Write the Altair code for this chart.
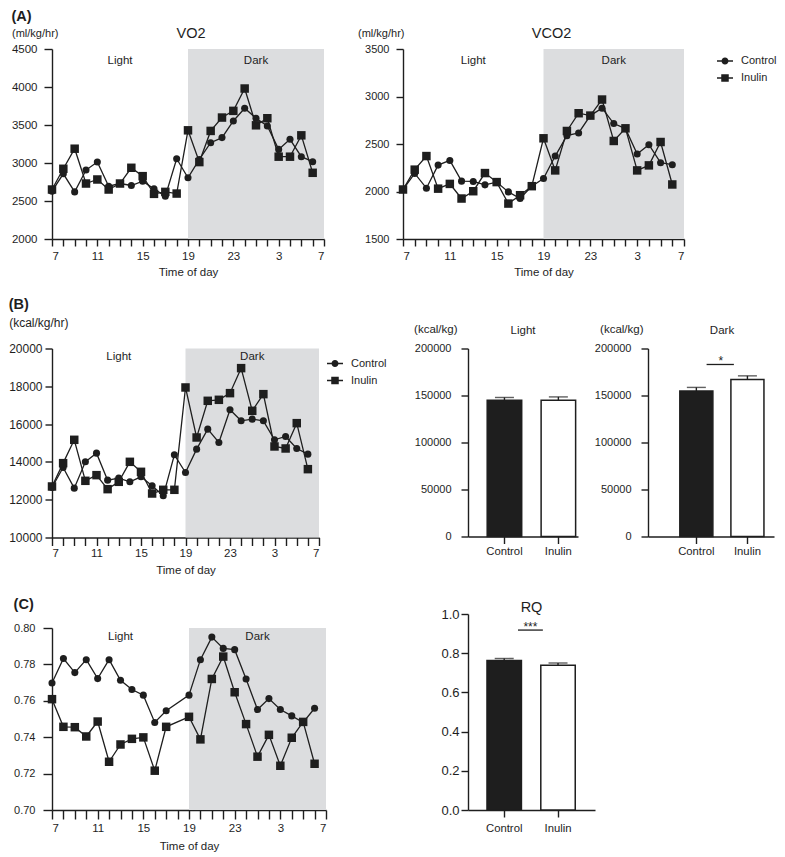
import altair as alt
import pandas as pd

FONT = "Liberation Sans"
INK = "#1e1e1e"
SHADE = "#dcdddf"

SERIES = ["Control", "Inulin"]

# ---- hourly time courses (hour of day) ----
HOURS_24 = [7, 8, 9, 10, 11, 12, 13, 14, 15, 16, 17, 18, 19, 20, 21, 22, 23, 0, 1, 2, 3, 4, 5, 6]

VO2_CONTROL = [2629, 2858, 2620, 2907, 3012, 2695, 2730, 2704, 2761, 2660, 2563, 3056,
               2805, 3047, 3267, 3334, 3553, 3721, 3589, 3488, 3179, 3312, 3083, 3017]
VO2_INULIN = [2651, 2924, 3188, 2730, 2783, 2651, 2730, 2937, 2827, 2594, 2620, 2598,
              3430, 3012, 3422, 3598, 3686, 3980, 3496, 3589, 3083, 3083, 3364, 2871]

VCO2_CONTROL = [2021, 2190, 2035, 2278, 2327, 2109, 2106, 2070, 2099, 1996, 1926, 2056,
                2137, 2373, 2588, 2616, 2799, 2877, 2715, 2662, 2394, 2493, 2303, 2282]
VCO2_INULIN = [2021, 2230, 2373, 2030, 2080, 1926, 2003, 2194, 2099, 1873, 1961, 2056,
               2560, 2222, 2637, 2824, 2799, 2968, 2532, 2665, 2222, 2275, 2521, 2074]

EE_CONTROL = [12646, 13704, 12611, 14004, 14463, 13034, 13140, 12946, 13210, 12734, 12205, 14375,
              13440, 14675, 15733, 15027, 16756, 16174, 16262, 16174, 15169, 15345, 14710, 14410]
EE_INULIN = [12699, 13934, 15169, 12999, 13299, 12558, 12946, 14004, 13475, 12328, 12523, 12523,
             17938, 15292, 17232, 17285, 17638, 18961, 16703, 17585, 14816, 14710, 16050, 13616]

RQ_HOURS = [7, 8, 9, 10, 11, 12, 13, 14, 15, 16, 17, 19, 20, 21, 22, 23, 0, 1, 2, 3, 4, 5, 6]
RQ_CONTROL = [0.7698, 0.7832, 0.7755, 0.7826, 0.7722, 0.7826, 0.7713, 0.7662, 0.7631, 0.7481, 0.7545,
              0.7631, 0.7826, 0.7950, 0.7888, 0.7881, 0.7720, 0.7552, 0.7612, 0.7552, 0.7517, 0.7481, 0.7559]
RQ_INULIN = [0.7609, 0.7457, 0.7455, 0.7404, 0.7486, 0.7265, 0.7360, 0.7391, 0.7399, 0.7216, 0.7457,
             0.7512, 0.7388, 0.7720, 0.7843, 0.7647, 0.7472, 0.7293, 0.7413, 0.7243, 0.7397, 0.7484, 0.7254]

# ---- summary bars (mean, SEM) ----
EE_LIGHT_MEAN = [145000, 145000]
EE_LIGHT_SEM = [2900, 3500]
EE_DARK_MEAN = [154700, 167000]
EE_DARK_SEM = [3900, 3900]
EE_DARK_SIG = ["*", 183000]
RQ_MEAN = [0.763, 0.738]
RQ_SEM = [0.010, 0.012]
RQ_SIG = ["***", 0.918]

START_HOUR = 7
DARK_START = 19
DAY = 24
PERIODS = ["Light", "Dark"]

LABEL_EXPR = "datum.value % 4 == 0 ? '' + ((datum.value + 7) % 24) : ''"
# legend glyphs: marker with a short line through it (line drawn as two thin filled bars)
_BARS = "M-1,-0.09L-0.4,-0.09L-0.4,0.09L-1,0.09Z M0.4,-0.09L1,-0.09L1,0.09L0.4,0.09Z "
CIRCLE_LINE = _BARS + "M-0.44,0A0.44,0.44,0,1,1,0.44,0A0.44,0.44,0,1,1,-0.44,0Z"
SQUARE_LINE = _BARS + "M-0.47,-0.47L0.47,-0.47L0.47,0.47L-0.47,0.47Z"


def hour_index(h):
    return (h - START_HOUR) % DAY


def y_axis(yticks, yfmt, unit, unit_x, unit_y, unit_size, lab_size, lab_pad, tick):
    kw = dict(values=yticks, format=yfmt, labelPadding=lab_pad, labelFontSize=lab_size, tickSize=tick)
    if unit:
        kw.update(title=unit, titleAngle=0, titleAlign="right", titleBaseline="middle",
                  titleX=unit_x, titleY=unit_y, titleFontSize=unit_size)
    else:
        kw["title"] = None
    return alt.Axis(**kw)


def line_panel(hours, ctrl, inul, ydom, yticks, yfmt, width, height, unit=None, unit_x=0,
               unit_y=-16, unit_size=11, title=None, title_off=-14.5, title_dx=0, legend_xy=None,
               xrange=None, yrange=None, period_y=12, lab_size=11.5, lab_pad=8, ytick=9,
               xtick=7, xlab_pad=4, xtitle_pad=4.5):
    rows = []
    for s, vals in zip(SERIES, (ctrl, inul)):
        for h, v in zip(hours, vals):
            rows.append({"series": s, "x": hour_index(h), "value": v})
    df = pd.DataFrame(rows)

    xs_kw = dict(domain=[0, DAY], nice=False, zero=False)
    if xrange is not None:
        xs_kw["range"] = xrange
    xs = alt.Scale(**xs_kw)
    xaxis = alt.Axis(values=list(range(DAY + 1)), labelExpr=LABEL_EXPR, title="Time of day",
                     titleFontSize=11.5, titlePadding=xtitle_pad, labelPadding=xlab_pad,
                     labelFontSize=11.5, tickSize=xtick)
    ys_kw = dict(domain=ydom, nice=False, zero=False)
    if yrange is not None:
        ys_kw["range"] = yrange
    ys = alt.Scale(**ys_kw)
    yaxis = y_axis(yticks, yfmt, unit, unit_x, unit_y, unit_size, lab_size, lab_pad, ytick)

    def X(f):
        return alt.X(f, scale=xs, axis=xaxis)

    def Y(f):
        return alt.Y(f, scale=ys, axis=yaxis)

    d0 = hour_index(DARK_START)
    band_df = pd.DataFrame({"x0": [d0], "x1": [DAY], "y0": [ydom[0]], "y1": [ydom[1]]})
    band = alt.Chart(band_df).mark_rect(fill=SHADE).encode(
        x=X("x0:Q"), x2="x1:Q", y=Y("y0:Q"), y2="y1:Q")

    lab_df = pd.DataFrame({"label": PERIODS, "x": [d0 / 2, (d0 + DAY) / 2]})
    labels = alt.Chart(lab_df).mark_text(font=FONT, fontSize=11.5, color=INK, baseline="middle").encode(
        x=X("x:Q"), y=alt.value(period_y), text="label:N")

    line = alt.Chart(df).mark_line(color=INK, strokeWidth=1.3).encode(
        x=X("x:Q"), y=Y("value:Q"), detail="series:N", order="x:Q")
    circ = alt.Chart(df).transform_filter(alt.datum.series == SERIES[0]).mark_circle(
        color=INK, size=50, opacity=1).encode(x=X("x:Q"), y=Y("value:Q"))
    sq = alt.Chart(df).transform_filter(alt.datum.series == SERIES[1]).mark_square(
        color=INK, size=72, opacity=1).encode(x=X("x:Q"), y=Y("value:Q"))
    layers = [band, labels, line, circ, sq]
    if legend_xy is not None:
        leg = alt.Chart(df).transform_filter("false").mark_point(
            filled=True, color=INK, opacity=1).encode(
            x=X("x:Q"), y=Y("value:Q"),
            shape=alt.Shape("series:N",
                            scale=alt.Scale(domain=SERIES, range=[CIRCLE_LINE, SQUARE_LINE]),
                            legend=alt.Legend(title=None, orient="none", legendX=legend_xy[0],
                                              legendY=legend_xy[1], symbolSize=256, labelFont=FONT,
                                              labelFontSize=11, labelColor=INK, labelOffset=7,
                                              rowPadding=1, symbolFillColor=INK)))
        layers.append(leg)
    ch = alt.layer(*layers).properties(width=width, height=height)
    if title:
        ch = ch.properties(title=alt.TitleParams(title, fontSize=14.5, fontWeight="normal", font=FONT,
                                                 color=INK, offset=title_off, frame="group",
                                                 dx=title_dx))
    return ch


def bar_panel(means, sems, ydom, yticks, yfmt, width, height, scale_kw, title, unit=None,
              unit_x=-10, unit_y=-19, sig=None, sig_from=0.8, sig_to=0.1, sig_dx=8,
              title_size=11.5, title_dx=0, title_off=-12.5, lab_size=11, lab_pad=10, ytick=7,
              xlab_pad=2):
    df = pd.DataFrame({"group": SERIES, "mean": means,
                       "upper": [m + s for m, s in zip(means, sems)]})
    xs = alt.Scale(domain=SERIES, **scale_kw)
    xaxis = alt.Axis(title=None, labelAngle=0, tickSize=7, labelPadding=xlab_pad, labelFontSize=11.3)
    ys = alt.Scale(domain=ydom, nice=False, zero=True)
    yaxis = y_axis(yticks, yfmt, unit, unit_x, unit_y, 11.5, lab_size, lab_pad, ytick)

    def X(f, bp=None):
        if bp is None:
            return alt.X(f, scale=xs, axis=xaxis)
        return alt.X(f, scale=xs, axis=xaxis, bandPosition=bp)

    def Y(f):
        return alt.Y(f, scale=ys, axis=yaxis)

    bars = alt.Chart(df).mark_bar(stroke=INK, strokeWidth=1.5).encode(
        x=X("group:N"), y=Y("mean:Q"),
        fill=alt.Fill("group:N", scale=alt.Scale(domain=SERIES, range=[INK, "white"]), legend=None))
    rule = alt.Chart(df).mark_rule(color=INK, strokeWidth=1.4).encode(
        x=X("group:N"), y=Y("mean:Q"), y2="upper:Q")
    cap = alt.Chart(df).mark_tick(color=INK, orient="horizontal", size=19, thickness=1.4).encode(
        x=X("group:N"), y=Y("upper:Q"))
    layers = [bars, rule, cap]
    if sig is not None:
        sdf = pd.DataFrame({"a": [SERIES[0]], "b": [SERIES[1]], "y": [sig[1]], "label": [sig[0]]})
        sline = alt.Chart(sdf).mark_rule(color=INK, strokeWidth=1.3).encode(
            x=X("a:N", sig_from), x2=alt.X2("b:N", bandPosition=sig_to), y=Y("y:Q"))
        stext = alt.Chart(sdf).mark_text(font=FONT, fontSize=12, color=INK, baseline="alphabetic",
                                         dx=sig_dx, dy=1).encode(
            x=X("a:N", 1), y=Y("y:Q"), text="label:N")
        layers += [sline, stext]
    ch = alt.layer(*layers).properties(
        width=width, height=height,
        title=alt.TitleParams(title, fontSize=title_size, fontWeight="normal", font=FONT, color=INK,
                              offset=title_off, dx=title_dx, frame="group"))
    return ch


vo2 = line_panel(HOURS_24, VO2_CONTROL, VO2_INULIN, [2000, 4500], list(range(2000, 4501, 500)), "d",
                 272, 190, unit="(ml/kg/hr)", unit_x=6, unit_y=-16, title="VO2", title_dx=3,
                 lab_pad=7, ytick=8)
vco2 = line_panel(HOURS_24, VCO2_CONTROL, VCO2_INULIN, [1500, 3500], list(range(1500, 3501, 500)), "d",
                  281, 190, unit="(ml/kg/hr)", unit_x=1, unit_y=-16, title="VCO2", title_dx=8,
                  legend_xy=[313, 3], lab_size=11, lab_pad=7, ytick=7)
# line panel of row B is wider than its axis so that the bar panels can share one gap
ee = line_panel(HOURS_24, EE_CONTROL, EE_INULIN, [10000, 20000], list(range(10000, 20001, 2000)), "d",
                346, 189, unit="(kcal/kg/hr)", unit_x=16, unit_y=-26, unit_size=12,
                legend_xy=[274, 6], xrange=[0, 267], period_y=8, lab_size=12, lab_pad=3, ytick=7,
                xtick=8, xlab_pad=2, xtitle_pad=5)
ee_light = bar_panel(EE_LIGHT_MEAN, EE_LIGHT_SEM, [0, 200000], list(range(0, 200001, 50000)), "d",
                     110, 188, dict(paddingInner=0.36, paddingOuter=0.2, align=0.89), "Light",
                     unit="(kcal/kg)", unit_x=-11, unit_y=-19)
ee_dark = bar_panel(EE_DARK_MEAN, EE_DARK_SEM, [0, 200000], list(range(0, 200001, 50000)), "d",
                    126, 188, dict(paddingInner=0.353, paddingOuter=0.41, align=0.76), "Dark",
                    unit="(kcal/kg)", unit_x=-5, unit_y=-19, sig=EE_DARK_SIG, sig_from=0.81,
                    sig_to=0.09, sig_dx=8, title_dx=11)
rq_line = line_panel(RQ_HOURS, RQ_CONTROL, RQ_INULIN, [0.70, 0.80],
                     [0.70, 0.72, 0.74, 0.76, 0.78, 0.80], ".2f", 274, 196, yrange=[196, 14],
                     period_y=23, lab_size=11, lab_pad=8, ytick=9, xtick=9, xlab_pad=3,
                     xtitle_pad=7)
rq_bar = bar_panel(RQ_MEAN, RQ_SEM, [0, 1], [0, 0.2, 0.4, 0.6, 0.8, 1.0], ".1f", 127, 196,
                   dict(paddingInner=0.36, paddingOuter=0.36, align=0.49), "RQ",
                   sig=RQ_SIG, sig_from=0.9, sig_to=0.06, sig_dx=9, title_size=14.5,
                   title_off=-7.5, lab_size=13, lab_pad=2, ytick=7, xlab_pad=5)


def row_title(t, off):
    return alt.TitleParams(t, anchor="start", fontSize=14.5, fontWeight="bold", font=FONT, color=INK,
                           offset=off)


def indep(c):
    return c.resolve_scale(shape="independent").resolve_legend(shape="independent")


row_a = indep(alt.hconcat(vo2, vco2, spacing=79, bounds="flush")).properties(
    title=row_title("(A)", 2))
row_b = indep(alt.hconcat(ee, ee_light, ee_dark, spacing=70, bounds="flush")).properties(
    title=row_title("(B)", 4))
row_c = indep(alt.hconcat(rq_line, rq_bar, spacing=142, bounds="flush")).properties(
    title=row_title("(C)", -12.5))

upper = indep(alt.vconcat(row_a, row_b, spacing=18.5))
chart = indep(alt.vconcat(upper, row_c, spacing=21)).properties(padding=0).configure_view(
    stroke=None).configure_axis(
    domainColor=INK, domainWidth=1.4, tickColor=INK, tickWidth=1.4,
    labelColor=INK, labelFont=FONT, titleColor=INK, titleFont=FONT,
    titleFontWeight="normal", grid=False).configure_legend(padding=0)

chart.save("out.html", embed_options={"renderer": "svg", "actions": False})
